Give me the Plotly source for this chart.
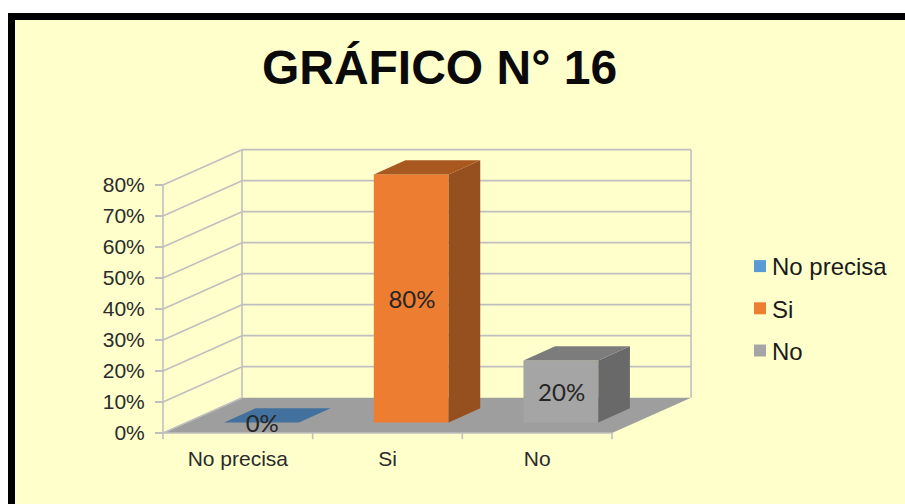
import plotly.graph_objects as go

categories = ["No precisa", "Si", "No"]
values = [0, 80, 20]
tick_values = [0, 10, 20, 30, 40, 50, 60, 70, 80]
tick_labels = ["0%", "10%", "20%", "30%", "40%", "50%", "60%", "70%", "80%"]

front_colors = ["#5B9BD5", "#ED7D31", "#A5A5A5"]
top_colors = ["#41719C", "#A9591F", "#7C7C7C"]
side_colors = ["#36607F", "#964F1E", "#696969"]

WIDTH, HEIGHT = 905, 504
GRID = "#BFBFBF"

# oblique projection: how far the back wall is shifted, in axis units
DEPTH_X = 0.528
DEPTH_Y = 11.4
BAR_WIDTH = 0.5
BAR_FRONT = 0.3
BAR_BACK = 0.7
LABEL_DROP = 1.0

n = len(categories)
fig = go.Figure()


def project(x, y, depth):
    return x + depth * DEPTH_X, y + depth * DEPTH_Y


def face(points, color):
    xs = [p[0] for p in points] + [points[0][0]]
    ys = [p[1] for p in points] + [points[0][1]]
    fig.add_trace(
        go.Scatter(
            x=xs,
            y=ys,
            mode="lines",
            fill="toself",
            fillcolor=color,
            line=dict(width=0),
            showlegend=False,
            hoverinfo="skip",
        )
    )


def grid_line(p0, p1):
    fig.add_shape(
        type="line",
        x0=p0[0],
        y0=p0[1],
        x1=p1[0],
        y1=p1[1],
        layer="below",
        line=dict(color=GRID, width=1.6),
    )


# frame of the picture, cut off at the right and the bottom
fig.add_shape(
    type="rect",
    xref="paper",
    yref="paper",
    x0=11.5 / WIDTH,
    x1=1.02,
    y0=-0.02,
    y1=1 - 16.5 / HEIGHT,
    layer="below",
    fillcolor="#FFFFCC",
    line=dict(color="black", width=7),
)

# floor
corners = [project(0, 0, 0), project(n, 0, 0), project(n, 0, 1), project(0, 0, 1)]
fig.add_shape(
    type="path",
    path="M " + " L ".join(f"{x},{y}" for x, y in corners) + " Z",
    layer="below",
    fillcolor="#9E9E9E",
    line=dict(width=0),
)

# walls
for v in tick_values:
    grid_line(project(0, v, 0), project(0, v, 1))
    if v > 0:
        grid_line(project(0, v, 1), project(n, v, 1))
top = tick_values[-1]
grid_line(project(0, 0, 0), project(0, top, 0))
grid_line(project(0, 0, 1), project(0, top, 1))
grid_line(project(n, 0, 1), project(n, top, 1))
grid_line(project(0, 0, 0), project(n, 0, 0))
for i in range(n + 1):
    grid_line((i, 0), (i, -2))

# columns: the front faces are real bars, sides and tops are added on them
for i, (name, value) in enumerate(zip(categories, values)):
    x0 = i + 0.5 - BAR_WIDTH / 2
    x1 = i + 0.5 + BAR_WIDTH / 2
    fig.add_trace(
        go.Bar(
            x=[project(i + 0.5, 0, BAR_FRONT)[0]],
            y=[value],
            base=[project(0, 0, BAR_FRONT)[1]],
            width=[BAR_WIDTH],
            name=name,
            legendgroup=name,
            marker=dict(color=front_colors[i], line=dict(width=0)),
            hoverinfo="skip",
        )
    )
    if value > 0:
        face(
            [
                project(x1, 0, BAR_FRONT),
                project(x1, 0, BAR_BACK),
                project(x1, value, BAR_BACK),
                project(x1, value, BAR_FRONT),
            ],
            side_colors[i],
        )
    face(
        [
            project(x0, value, BAR_FRONT),
            project(x1, value, BAR_FRONT),
            project(x1, value, BAR_BACK),
            project(x0, value, BAR_BACK),
        ],
        top_colors[i],
    )

# data labels
label_x = [project(i + 0.5, 0, BAR_FRONT)[0] + 0.005 for i in range(n)]
label_y = [project(0, v / 2, BAR_FRONT)[1] - LABEL_DROP for v in values]
fig.add_trace(
    go.Scatter(
        x=label_x,
        y=label_y,
        mode="text",
        text=[f"{v}%" for v in values],
        textposition="middle center",
        textfont=dict(family="Lato", size=24, color="#262626"),
        showlegend=False,
        hoverinfo="skip",
    )
)

fig.update_layout(
    width=WIDTH,
    height=HEIGHT,
    margin=dict(l=0, r=0, t=0, b=0),
    paper_bgcolor="white",
    plot_bgcolor="rgba(0,0,0,0)",
    barmode="overlay",
    hovermode=False,
    font=dict(family="Liberation Sans", color="#2B2B2B"),
    title=dict(
        text="GRÁFICO N° 16",
        font=dict(family="Liberation Sans", size=48, color="#0A0A0A", weight="bold"),
        x=439.5 / WIDTH,
        xanchor="center",
        y=1 - 67 / HEIGHT,
        yanchor="middle",
    ),
    legend=dict(
        x=740 / WIDTH,
        xanchor="left",
        y=1 - 244 / HEIGHT,
        yanchor="top",
        font=dict(size=24, color="#1A1A1A"),
        bgcolor="rgba(0,0,0,0)",
        tracegroupgap=8,
    ),
    xaxis=dict(
        range=[-163 / 149.67, (WIDTH - 163) / 149.67],
        anchor="free",
        position=(HEIGHT - 433) / HEIGHT,
        tickvals=[i + 0.5 for i in range(n)],
        ticktext=categories,
        tickfont=dict(size=21),
        ticks="outside",
        ticklen=7,
        tickcolor="rgba(0,0,0,0)",
        showgrid=False,
        zeroline=False,
        showline=False,
    ),
    yaxis=dict(
        range=[-71 / 3.1, 433 / 3.1],
        anchor="free",
        position=163 / WIDTH,
        tickvals=tick_values,
        ticktext=tick_labels,
        tickfont=dict(size=21),
        ticks="outside",
        ticklen=8,
        tickwidth=1.6,
        tickcolor=GRID,
        ticklabelstandoff=6,
        showgrid=False,
        zeroline=False,
        showline=False,
    ),
)

# page margin off, and legend text closer to its swatch than plotly allows
post = """
document.body.style.margin = '0';
document.querySelectorAll('.legendtext').forEach(function (t) {
    t.setAttribute('x', parseFloat(t.getAttribute('x')) - 8);
});
"""
fig.write_html("out.html", post_script=post, config=dict(displayModeBar=False))
